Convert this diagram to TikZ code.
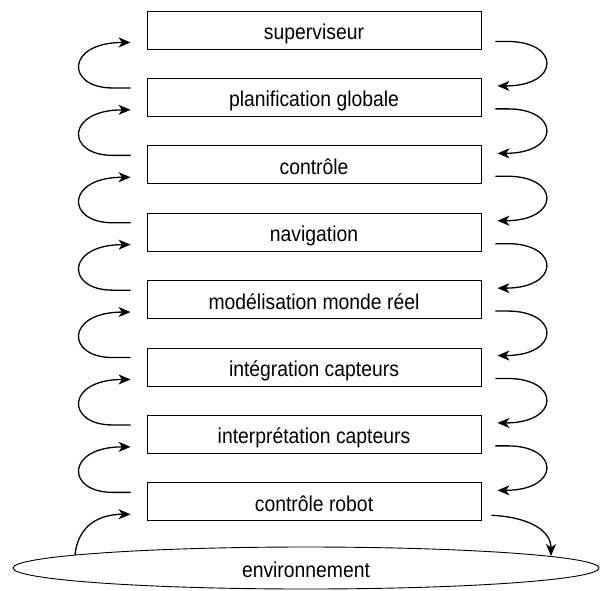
\documentclass[tikz,border=0pt]{standalone}
\usepackage{fontspec}
\setmainfont{Liberation Sans}
\usetikzlibrary{arrows.meta,shapes.geometric}
% slightly narrowed lettering for the labels
\newcommand\lbl[1]{\scalebox{0.9}[1]{#1}}
\begin{document}
\begin{tikzpicture}[x=1pt,y=-1pt,
  txt/.style={font=\fontsize{21.5}{24}\selectfont, text height=20pt, text depth=1pt},
  layer/.style={txt, draw, line width=0.9pt, minimum width=334pt, minimum height=38pt,
    inner sep=0pt},
  conn/.style={line width=1.3pt, -{Stealth[length=12pt,width=10pt,inset=3.5pt]}}]
\useasboundingbox (0,0) rectangle (602,590);

% the layers of the architecture, top to bottom
\node[layer] (b1) at (314,30)    {\lbl{superviseur}};
\node[layer] (b2) at (314,97.4)  {\lbl{planification globale}};
\node[layer] (b3) at (314,164.8) {\lbl{contrôle}};
\node[layer] (b4) at (314,232.2) {\lbl{navigation}};
\node[layer] (b5) at (314,299.6) {\lbl{modélisation monde réel}};
\node[layer] (b6) at (314,367)   {\lbl{intégration capteurs}};
\node[layer] (b7) at (314,434.4) {\lbl{interprétation capteurs}};
\node[layer] (b8) at (314,501.8) {\lbl{contrôle robot}};

% the environment
\node[txt, draw, ellipse, line width=0.9pt, minimum width=586pt, minimum height=42pt,
  inner sep=0pt] (env) at (306,568) {\lbl{environnement}};
\coordinate (envL) at (75,555);
\coordinate (envR) at (551,556);

% upward loops on the left, downward loops on the right
\foreach \u/\l in {b1/b2,b2/b3,b3/b4,b4/b5,b5/b6,b6/b7,b7/b8}{
  \draw[conn] ([xshift=-16pt,yshift=-10pt]\l.north west) -- ++(-18,0)
    .. controls +(-47,0) and +(-65,0) .. ([xshift=-16pt,yshift=7pt]\u.south west);
  \draw[conn] ([xshift=14pt,yshift=8pt]\u.south east) -- ++(12,0)
    .. controls +(53,0) and +(63,0) .. ([xshift=16pt,yshift=-8pt]\l.north east);
}

% exchanges with the environment
\draw[conn] (envL) .. controls +(3,-30) and +(-31,0) .. ([xshift=-16pt,yshift=7pt]b8.south west);
\draw[conn] ([xshift=10pt,yshift=6pt]b8.south east) .. controls +(39,2) and +(0,-25) .. (envR);
\end{tikzpicture}
\end{document}
